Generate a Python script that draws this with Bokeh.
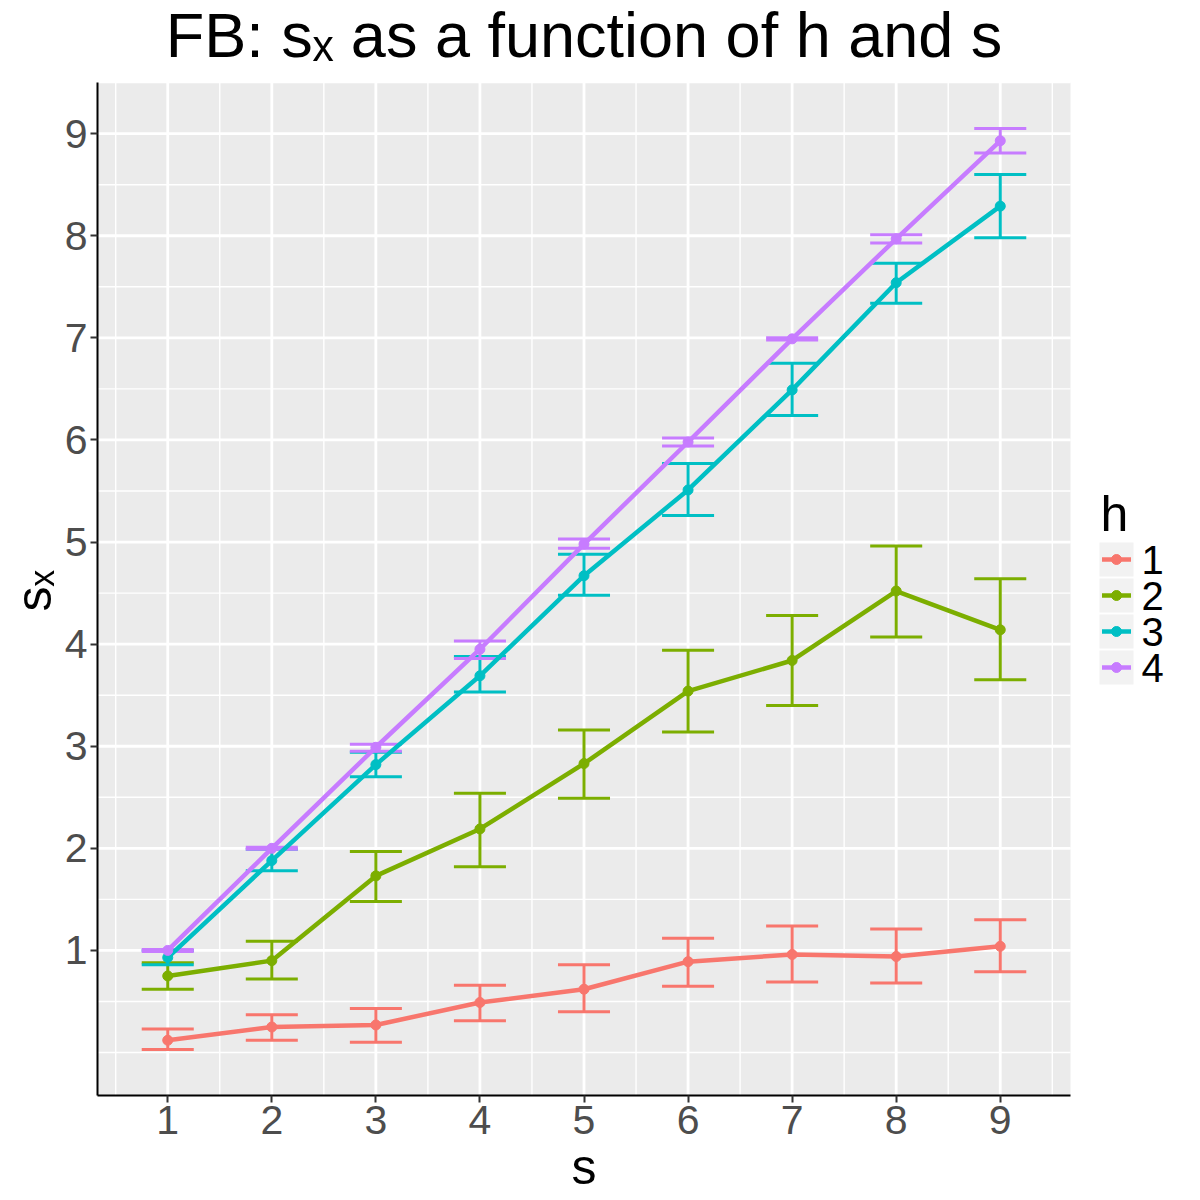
from bokeh.plotting import figure
from bokeh.models import Range1d, FixedTicker, ColumnDataSource, Title
from bokeh.core.properties import value
from bokeh.embed import file_html
from bokeh.resources import INLINE

# ---------------- data ----------------
s_vals = [1, 2, 3, 4, 5, 6, 7, 8, 9]
h_levels = ["1", "2", "3", "4"]

h1_mean = [0.12, 0.25, 0.27, 0.49, 0.62, 0.89, 0.96, 0.94, 1.04]
h1_lo   = [0.03, 0.12, 0.10, 0.31, 0.40, 0.65, 0.69, 0.68, 0.79]
h1_hi   = [0.23, 0.37, 0.43, 0.66, 0.86, 1.12, 1.24, 1.21, 1.30]

h2_mean = [0.75, 0.90, 1.73, 2.19, 2.83, 3.54, 3.84, 4.52, 4.14]
h2_lo   = [0.62, 0.72, 1.48, 1.82, 2.49, 3.14, 3.40, 4.07, 3.65]
h2_hi   = [0.88, 1.09, 1.97, 2.54, 3.16, 3.94, 4.28, 4.96, 4.64]

h3_mean = [0.93, 1.88, 2.82, 3.69, 4.67, 5.51, 6.49, 7.54, 8.29]
h3_lo   = [0.86, 1.78, 2.70, 3.53, 4.48, 5.26, 6.24, 7.34, 7.98]
h3_hi   = [1.00, 1.99, 2.94, 3.88, 4.88, 5.77, 6.75, 7.73, 8.60]

h4_mean = [1.00, 2.00, 2.99, 3.95, 4.98, 5.98, 6.99, 7.97, 8.93]
h4_lo   = [0.99, 1.99, 2.95, 3.86, 4.94, 5.94, 6.98, 7.93, 8.81]
h4_hi   = [1.01, 2.01, 3.02, 4.03, 5.03, 6.02, 7.00, 8.01, 9.05]

y_ticks = [1, 2, 3, 4, 5, 6, 7, 8, 9]

means = [h1_mean, h2_mean, h3_mean, h4_mean]
lows = [h1_lo, h2_lo, h3_lo, h4_lo]
highs = [h1_hi, h2_hi, h3_hi, h4_hi]

colors = ["#F8766D", "#7CAE00", "#00BFC4", "#C77CFF"]

title_text = "FB: s\u2093 as a function of h and s"
x_label = "s"
y_label = "s\u2093"
legend_title = "h"

# ---------------- style / layout (pixels) ----------------
FONT = "Liberation Sans"
cap = 0.25        # half-width of error bar caps (data units)
LINE_W = 4.5
BAR_W = 3
PT_SIZE = 10
PANEL_BG = "#EBEBEB"

W, H = 1200, 1200
PANEL_L, PANEL_R, PANEL_T, PANEL_B = 97, 1070, 82, 1095

# ggplot-like panel limits: data extent (incl. error bars) expanded by 5%
x_min, x_max = min(s_vals) - cap, max(s_vals) + cap
y_min = min(min(l) for l in lows)
y_max = max(max(h) for h in highs)
xa, xb = x_min - 0.05 * (x_max - x_min), x_max + 0.05 * (x_max - x_min)
ya, yb = y_min - 0.05 * (y_max - y_min), y_max + 0.05 * (y_max - y_min)

kx = (PANEL_R - PANEL_L) / (xb - xa)   # px per data unit
ky = (PANEL_B - PANEL_T) / (yb - ya)


def X(px):
    return xa + (px - PANEL_L) / kx


def Y(py):
    return ya + (PANEL_B - py) / ky


# the frame extends to the right edge and top edge so that title and legend
# can live inside it; the grey panel itself is drawn over [xa,xb]x[ya,yb]
p = figure(width=W, height=H, output_backend="svg", toolbar_location=None, title=None,
           x_range=Range1d(xa, X(W)), y_range=Range1d(ya, Y(0)),
           min_border_left=PANEL_L, min_border_right=0, min_border_top=0,
           min_border_bottom=H - PANEL_B,
           background_fill_color="white", border_fill_color="white",
           outline_line_color=None)
p.xgrid.visible = False
p.ygrid.visible = False

p.quad(left=[xa], right=[xb], bottom=[ya], top=[yb], fill_color=PANEL_BG,
       line_color=None, level="image")

# grid lines (minor then major), restricted to the panel
x_minor = [k + 0.5 for k in range(0, 10) if xa <= k + 0.5 <= xb]
y_minor = [k * 0.5 for k in range(-2, 21) if ya <= k * 0.5 <= yb]
p.segment(x0=x_minor, y0=[ya] * len(x_minor), x1=x_minor, y1=[yb] * len(x_minor),
          line_color="white", line_width=1.4, level="underlay")
p.segment(x0=[xa] * len(y_minor), y0=y_minor, x1=[xb] * len(y_minor), y1=y_minor,
          line_color="white", line_width=1.4, level="underlay")
p.segment(x0=s_vals, y0=[ya] * len(s_vals), x1=s_vals, y1=[yb] * len(s_vals),
          line_color="white", line_width=2.8, level="underlay")
p.segment(x0=[xa] * len(y_ticks), y0=y_ticks, x1=[xb] * len(y_ticks), y1=y_ticks,
          line_color="white", line_width=2.8, level="underlay")

p.xaxis.ticker = FixedTicker(ticks=s_vals)
p.yaxis.ticker = FixedTicker(ticks=y_ticks)
p.xaxis.bounds = (xa, xb)
p.yaxis.bounds = (ya, yb)

for ax in (p.xaxis[0], p.yaxis[0]):
    ax.axis_line_color = "black"
    ax.axis_line_width = 2
    ax.major_tick_line_color = "#333333"
    ax.major_tick_line_width = 2
    ax.major_tick_out = 7
    ax.major_tick_in = 0
    ax.minor_tick_line_color = None
    ax.major_label_text_font = FONT
    ax.major_label_text_font_size = "41px"
    ax.major_label_text_color = "#4D4D4D"
    ax.major_label_standoff = 3

# axis titles, positioned over the panel (not the extended frame)
AX_SIZE = 50
xl_w = 0.5 * AX_SIZE      # approx. width of "s"
yl_w = 0.9 * AX_SIZE      # approx. width of "s\u2093"
x_title = Title(text=x_label, align="left", offset=(PANEL_L + PANEL_R) / 2 - xl_w / 2 - PANEL_L,
                text_font=FONT, text_font_size=f"{AX_SIZE}px", text_font_style="normal",
                text_color="black", standoff=0)
p.add_layout(x_title, "below")
y_title = Title(text=y_label, align="left",
                offset=PANEL_B - ((PANEL_T + PANEL_B) / 2 + yl_w / 2),
                text_font=FONT, text_font_size=f"{AX_SIZE}px", text_font_style="normal",
                text_color="black", standoff=0)
p.add_layout(y_title, "left")

sources = []
for m, lo, hi in zip(means, lows, highs):
    sources.append(ColumnDataSource(dict(
        s=s_vals, m=m, lo=lo, hi=hi,
        sl=[v - cap for v in s_vals], sr=[v + cap for v in s_vals])))

# error bars
for src, c in zip(sources, colors):
    p.segment(x0="s", y0="lo", x1="s", y1="hi", source=src, line_color=c, line_width=BAR_W)
    p.segment(x0="sl", y0="lo", x1="sr", y1="lo", source=src, line_color=c, line_width=BAR_W)
    p.segment(x0="sl", y0="hi", x1="sr", y1="hi", source=src, line_color=c, line_width=BAR_W)

# lines
for src, c in zip(sources, colors):
    p.line(x="s", y="m", source=src, line_color=c, line_width=LINE_W)

# points
for src, c in zip(sources, colors):
    p.scatter(x="s", y="m", source=src, size=PT_SIZE, fill_color=c, line_color=c)

# ---------------- title ----------------
TITLE_SIZE = 63
TITLE_BASE = 55      # baseline, px from top
p.text(x=[X((PANEL_L + PANEL_R) / 2)], y=[Y(TITLE_BASE - 0.33 * TITLE_SIZE)], text=[title_text],
       text_font=value(FONT), text_font_size=value(f"{TITLE_SIZE}px"), text_color="black",
       text_align="center", text_baseline="middle")

# ---------------- legend ----------------
KEY_CX = 1116
KEY_SIZE = 34
KEY_TOP = 559        # first key centre, px from top
KEY_PITCH = 36
key_py = [KEY_TOP + i * KEY_PITCH for i in range(len(h_levels))]
n = len(h_levels)

leg_src = ColumnDataSource(dict(
    x=[X(KEY_CX)] * n, y=[Y(v) for v in key_py],
    x0=[X(KEY_CX - 14.5)] * n, x1=[X(KEY_CX + 14.5)] * n,
    lx=[X(KEY_CX + 25)] * n, label=h_levels, color=colors))

p.rect(x="x", y="y", width=KEY_SIZE / kx, height=KEY_SIZE / ky, source=leg_src,
       fill_color="#F2F2F2", line_color=None)
p.segment(x0="x0", y0="y", x1="x1", y1="y", source=leg_src,
          line_color="color", line_width=LINE_W)
p.scatter(x="x", y="y", source=leg_src, size=PT_SIZE, fill_color="color", line_color="color")
p.text(x="lx", y="y", text="label", source=leg_src,
       text_font=value(FONT), text_font_size=value("40px"), text_color="black",
       text_align="left", text_baseline="middle")

LT_SIZE = 50
LT_BASE = 530
p.text(x=[X(KEY_CX - KEY_SIZE / 2 + 1)], y=[Y(LT_BASE - 0.33 * LT_SIZE)], text=[legend_title],
       text_font=value(FONT), text_font_size=value(f"{LT_SIZE}px"), text_color="black",
       text_align="left", text_baseline="middle")

open("out.html", "w").write(file_html(p, INLINE))
